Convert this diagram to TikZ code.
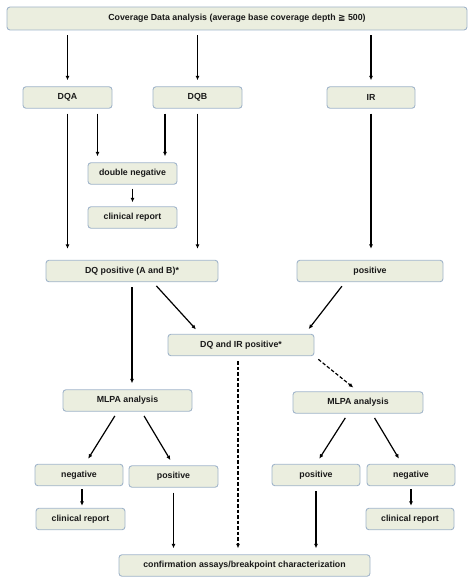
\documentclass[tikz,border=0pt]{standalone}
\usepackage{fontspec}
\setmainfont{Liberation Sans}
\newfontfamily\geqfont{DejaVu Sans}
\usetikzlibrary{arrows.meta, positioning}
\definecolor{boxfill}{RGB}{235,238,223}
\definecolor{boxline}{RGB}{160,180,202}
\tikzset{
    box/.style={draw=boxline, line width=0.9pt, fill=boxfill, rounded corners=3pt, align=center, text=black!90, font=\fontsize{8.8}{10}\selectfont\bfseries, minimum height=21.5pt, inner sep=2pt},
    arrow/.style={-{Latex[length=4.5pt,width=4pt]}, line width=1.2pt, shorten <=5pt, shorten >=6pt},
    dasharrow/.style={arrow, dashed, dash pattern=on 3.5pt off 2pt}
}

\begin{document}
\begin{tikzpicture}[x=1pt, y=-1pt]
        \useasboundingbox (0,0) rectangle (474,583);
        % top row
        \node [box, minimum width=460pt, minimum height=23pt] (cov) at (237,18.5) {Coverage Data analysis (average base coverage depth {\geqfont ≧} 500)};
        \node [box, minimum width=89pt] (dqa) at (67.5,97.5) {DQA};
        \node [box, minimum width=89pt] (dqb) at (197.5,97.5) {DQB};
        \node [box, minimum width=88pt] (ir) at (371,97.5) {IR};
        % double negative branch
        \node [box, minimum width=89pt] (dneg) at (132.5,173.5) {double negative};
        \node [box, minimum width=89pt] (crepa) at (132.5,217.5) {clinical report};
        % positives
        \node [box, minimum width=172pt] (dqpos) at (132,271) {DQ positive (A and B)*};
        \node [box, minimum width=146pt] (irpos) at (370,271) {positive};
        \node [box, minimum width=146pt] (dqir) at (241,345) {DQ and IR positive*};
        % MLPA
        \node [box, minimum width=129pt] (mlpaa) at (127.5,400.5) {MLPA analysis};
        \node [box, minimum width=130pt] (mlpab) at (358,402.5) {MLPA analysis};
        \node [box, minimum width=88pt] (nega) at (79,475) {negative};
        \node [box, minimum width=89pt] (posa) at (173.5,476.5) {positive};
        \node [box, minimum width=88pt] (posb) at (316,475) {positive};
        \node [box, minimum width=88pt] (negb) at (411,475) {negative};
        \node [box, minimum width=89pt] (crepb) at (80.5,519) {clinical report};
        \node [box, minimum width=88pt] (crepc) at (410,519) {clinical report};
        \node [box, minimum width=251pt] (conf) at (244.5,565.5) {confirmation assays/breakpoint characterization};

        \draw [arrow] (cov.south -| dqa) -- (dqa);
        \draw [arrow] (cov.south -| dqb) -- (dqb);
        \draw [arrow] (cov.south -| ir) -- (ir);

        \draw [arrow, shorten >=11pt] (dqa.south) -- (dqa.south |- dqpos.north);
        \draw [arrow] ([xshift=30pt]dqa.south) -- ([xshift=30pt]dqa.south |- dneg.north);
        \draw [arrow] ([xshift=-32.5pt]dqb.south) -- ([xshift=-32.5pt]dqb.south |- dneg.north);
        \draw [arrow, shorten >=11pt] (dqb.south) -- (dqb.south |- dqpos.north);
        \draw [arrow, shorten >=11pt] (ir.south) -- (ir.south |- irpos.north);
        \draw [arrow, shorten <=4pt, shorten >=4pt] (dneg) -- (crepa);

        \draw [arrow] (dqpos.south) -- (dqpos.south |- mlpaa.north);
        \draw [arrow] ([xshift=21pt]dqpos.south) -- ([xshift=-41pt]dqir.north);
        \draw [arrow] ([xshift=-25pt]irpos.south) -- ([xshift=64pt]dqir.north);
        \draw [dasharrow] ([xshift=-3pt]dqir.south) -- ([xshift=-3pt]dqir.south |- conf.north);
        \draw [dasharrow] (dqir.south east) -- (mlpab.north);

        \draw [arrow] ([xshift=-10pt]mlpaa.south) -- ([xshift=6pt]nega.north);
        \draw [arrow] ([xshift=14pt]mlpaa.south) -- (posa.north);
        \draw [arrow] ([xshift=-10pt]mlpab.south) -- (posb.north);
        \draw [arrow] ([xshift=14pt]mlpab.south) -- ([xshift=-9pt]negb.north);
        \draw [arrow, shorten <=3pt, shorten >=2pt] ([xshift=3pt]nega.south) -- ([xshift=3pt]nega.south |- crepb.north);
        \draw [arrow, shorten <=3pt, shorten >=2pt] (negb.south) -- (negb.south |- crepc.north);

        \draw [arrow] (posa.south) -- (posa.south |- conf.north);
        \draw [arrow] (posb.south) -- (posb.south |- conf.north);
    \end{tikzpicture}
\end{document}
